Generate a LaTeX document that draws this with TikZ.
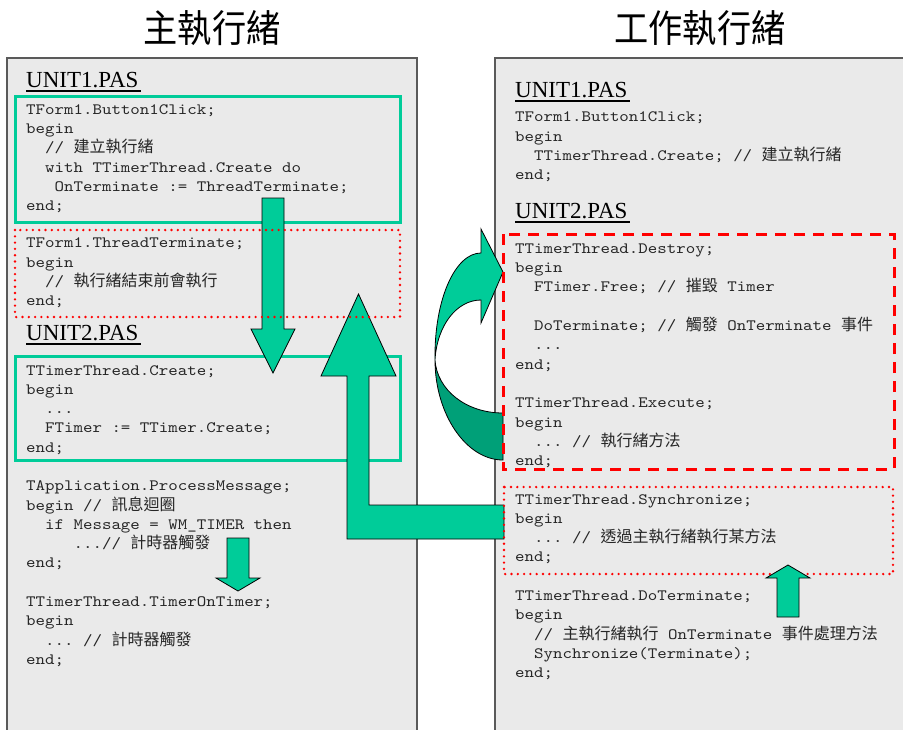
\documentclass[tikz,border=0pt]{standalone}
\usepackage{fontspec}
\setmainfont{Liberation Serif}
\setmonofont{lmmono10-regular.otf}[FakeStretch=1.143]
\newfontfamily\cjk{Noto Sans CJK TC}
\definecolor{panelgray}{HTML}{EAEAEA}
\definecolor{panelborder}{HTML}{5A5A5A}
\definecolor{boxgreen}{HTML}{00CC99}
\definecolor{arrowgreen}{HTML}{00CC99}
\definecolor{arrowdark}{HTML}{00A078}
\newlength\cw \setlength\cw{9.48pt}
\newcommand\ind[1]{\hspace*{#1\cw}}
\newcommand\ddd{...}
\newcommand\C[1]{{\cjk\fontsize{16}{19.3}\selectfont #1}}
\newcommand\codefont{\ttfamily\fontsize{15.8}{19.3}\selectfont}
\newcommand\headfont{\rmfamily\fontsize{23}{23}\selectfont}
\newcommand\titlefont{\cjk\fontsize{38}{38}\selectfont}
\newcommand\codeblock[4]{%
  \foreach \cl [count=\i from 0] in {#4}{%
    \node[code] (#1-\i) at (#2,{#3+\i*19.3}) {\cl};}}
\begin{document}
\begin{tikzpicture}[x=1pt,y=-1pt,
  code/.style={anchor=base west, inner sep=0pt, font=\codefont, text=black!85},
  head/.style={anchor=base west, inner sep=0pt, font=\headfont},
  titlenode/.style={inner sep=0pt, font=\titlefont},
  panel/.style={fill=panelgray, draw=panelborder, line width=1.5pt},
  greenbox/.style={draw=boxgreen, line width=3pt},
  dotbox/.style={draw=red, line width=2.6pt, line cap=round, dash pattern=on 0pt off 6.3pt},
  dashbox/.style={draw=red, line width=3pt, dash pattern=on 11pt off 8pt},
  blockarrow/.style={fill=arrowgreen, draw=black, line width=0.8pt, line join=miter},
  darkpart/.style={fill=arrowdark, draw=black, line width=0.8pt},
  uline/.style={line width=1.8pt}]
\useasboundingbox (0,0) rectangle (903,729);
\fill[white] (0,0) rectangle (903,729);

% titles
\node[titlenode] (t1) at (212,28) {\scalebox{0.9}[1]{主執行緒}};
\node[titlenode] (t2) at (700,28) {\scalebox{0.9}[1]{工作執行緒}};

% panels
\draw[panel] (7,58) rectangle (417,745);
\draw[panel] (495,58) rectangle (915,745);

% green boxes (left)
\draw[greenbox] (15,96) rectangle (400,222);
\draw[greenbox] (15,356) rectangle (400,460);

% headings
\node[head] (hl1) at (26,87) {UNIT1.PAS};
\node[head] (hl2) at (26,340) {UNIT2.PAS};
\node[head] (hr1) at (515,97) {UNIT1.PAS};
\node[head] (hr2) at (515,218) {UNIT2.PAS};
\foreach \h in {hl1,hl2,hr1,hr2}{
  \draw[uline] ([yshift=-4pt]\h.base west) -- ([yshift=-4pt,xshift=2pt]\h.base east);}

% left code
\codeblock{L1}{26}{114.3}{{TForm1.Button1Click;},{begin},{\ind{2}// \C{建立執行緒}},{\ind{2}with TTimerThread.Create do},{\ind{3}OnTerminate := ThreadTerminate;},{end;}}
\codeblock{L2}{26}{247.7}{{TForm1.ThreadTerminate;},{begin},{\ind{2}// \C{執行緒結束前會執行}},{end;}}
\codeblock{L3}{26}{375}{{TTimerThread.Create;},{begin},{\ind{2}\ddd},{\ind{2}FTimer := TTimer.Create;},{end;}}
\codeblock{L4}{26}{490.7}{{TApplication.ProcessMessage;},{begin // \C{訊息迴圈}},{\ind{2}if Message = WM\_TIMER then},{\ind{5}\ddd// \C{計時器觸發}},{end;}}
\codeblock{L5}{26}{606.5}{{TTimerThread.TimerOnTimer;},{begin},{\ind{2}\ddd{} // \C{計時器觸發}},{end;}}

% right code
\codeblock{R1}{515}{121.7}{{TForm1.Button1Click;},{begin},{\ind{2}TTimerThread.Create; // \C{建立執行緒}},{end;}}
\codeblock{R2}{515}{253.3}{{TTimerThread.Destroy;},{begin},{\ind{2}FTimer.Free; // \C{摧毀} Timer}}
\codeblock{R3}{515}{330.5}{{\ind{2}DoTerminate; // \C{觸發} OnTerminate \C{事件}},{\ind{2}\ddd},{end;}}
\codeblock{R4}{515}{407.7}{{TTimerThread.Execute;},{begin},{\ind{2}\ddd{} // \C{執行緒方法}},{end;}}
\codeblock{R5}{515}{504}{{TTimerThread.Synchronize;},{begin},{\ind{2}\ddd{} // \C{透過主執行緒執行某方法}},{end;}}
\codeblock{R6}{515}{600.5}{{TTimerThread.DoTerminate;},{begin},{\ind{2}// \C{主執行緒執行} OnTerminate \C{事件處理方法}},{\ind{2}Synchronize(Terminate);},{end;}}

% big down arrow
\draw[blockarrow] (262,198) -- (284,198) -- (284,329) -- (295,329) -- (273,373) -- (251,329) -- (262,329) -- cycle;
% L-shaped up arrow
\draw[blockarrow] (504,505) -- (369,505) -- (369,376) -- (396,376) -- (358.5,294) -- (321,376) -- (347,376) -- (347,539) -- (504,539) -- cycle;
% small down arrow
\draw[blockarrow] (227,538) -- (249,538) -- (249,578) -- (260,578) -- (238,591) -- (216,578) -- (227,578) -- cycle;

% curved arrow (dark back part)
\draw[darkpart] (435,360) .. controls (435,414) and (466,460) .. (503,460) -- (503,413) .. controls (466,413) and (437,390) .. (435,360) -- cycle;
% curved arrow (light front part with head)
\draw[blockarrow] (435,360) .. controls (434,300) and (455,253) .. (481,253) -- (481,229) -- (503,272) -- (481,323) -- (481,300) .. controls (457,300) and (437,325) .. (435,360) -- cycle;

% red boxes
\draw[dotbox] (15,230) rectangle (400,317);
\draw[dashbox] (503,234) rectangle (894,469);
\draw[dotbox] (504,487) rectangle (893,574);

% small up arrow
\draw[blockarrow] (777,617) -- (799,617) -- (799,578) -- (810,578) -- (788,565) -- (766,578) -- (777,578) -- cycle;
\end{tikzpicture}
\end{document}
